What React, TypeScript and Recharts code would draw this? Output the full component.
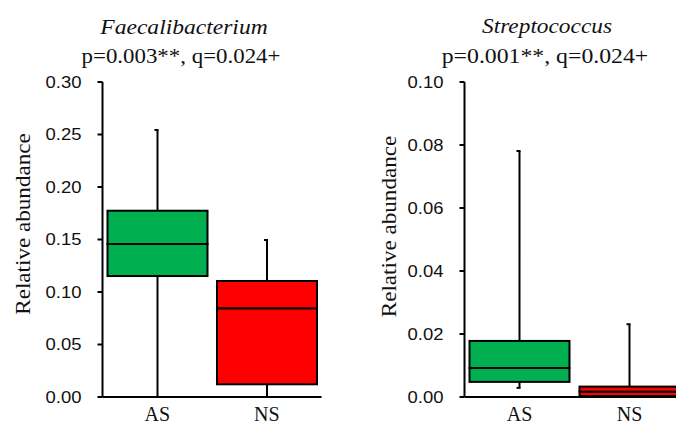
import React from 'react';
import { ComposedChart, Bar, XAxis, YAxis, Label } from 'recharts';

const categories = ['AS', 'NS'];

// Faecalibacterium box statistics (AS, NS)
const faecMin = [0.0, 0.0];
const faecQ1 = [0.1152, 0.0121];
const faecMedian = [0.1457, 0.0845];
const faecQ3 = [0.1774, 0.1105];
const faecMax = [0.2543, 0.1495];

// Streptococcus box statistics (AS, NS)
const strepMin = [0.0029, 0.0];
const strepQ1 = [0.0048, 0.0003];
const strepMedian = [0.0092, 0.0017];
const strepQ3 = [0.0178, 0.0033];
const strepMax = [0.0781, 0.0231];

const faecTicks = [0, 0.05, 0.1, 0.15, 0.2, 0.25, 0.3];
const strepTicks = [0, 0.02, 0.04, 0.06, 0.08, 0.1];

const boxColors = ['#00B050', '#FF0000'];

const buildRows = (
  mins: number[],
  q1s: number[],
  meds: number[],
  q3s: number[],
  maxs: number[]
) =>
  categories.map((name, i) => ({
    name,
    base: mins[i],
    lowWhisker: q1s[i] - mins[i],
    lowBox: meds[i] - q1s[i],
    highBox: q3s[i] - meds[i],
    highWhisker: maxs[i] - q3s[i],
  }));

const faecRows = buildRows(faecMin, faecQ1, faecMedian, faecQ3, faecMax);
const strepRows = buildRows(strepMin, strepQ1, strepMedian, strepQ3, strepMax);

const serif = 'Liberation Serif';
const sans = 'Liberation Sans';

const makeWhisker = (cap: 'top' | 'bottom') => (props: any) => {
  const { x, y, width, height } = props;
  const cx = x + width / 2;
  const capY = cap === 'top' ? y : y + height;
  return (
    <g>
      <line x1={cx} x2={cx} y1={y} y2={y + height} stroke="#000" strokeWidth={2} />
      <line x1={cx - 3} x2={cx + 1} y1={capY} y2={capY} stroke="#000" strokeWidth={2} />
    </g>
  );
};

const BoxShape = (props: any) => {
  const { x, y, width, height, index } = props;
  return (
    <rect
      x={x}
      y={y}
      width={width}
      height={height}
      fill={boxColors[index]}
      stroke="#000"
      strokeWidth={2}
    />
  );
};

const YTick = (props: any) => {
  const { x, y, payload } = props;
  return (
    <text
      transform={`translate(${x},${y}) scale(1.12,1)`}
      dy="0.36em"
      textAnchor="end"
      fontFamily={sans}
      fontSize={16.5}
      fill="#111"
    >
      {Number(payload.value).toFixed(2)}
    </text>
  );
};

const XTick = (props: any) => {
  const { x, y, payload } = props;
  return (
    <text
      x={x}
      y={y + 24}
      textAnchor="middle"
      fontFamily={serif}
      fontSize={20}
      fill="#111"
    >
      {payload.value}
    </text>
  );
};

const whiskerLow = makeWhisker('bottom');
const whiskerHigh = makeWhisker('top');

function BoxPanel({
  rows,
  domain,
  ticks,
  chartWidth,
  plotLeft,
  plotWidth,
  labelX,
  labelY,
}: {
  rows: any[];
  domain: [number, number];
  ticks: number[];
  chartWidth: number;
  plotLeft: number;
  plotWidth: number;
  labelX: number;
  labelY: number;
}) {
  const yAxisWidth = 60;
  return (
    <ComposedChart
      width={chartWidth}
      height={427}
      data={rows}
      margin={{
        top: 82,
        right: chartWidth - plotLeft - plotWidth,
        bottom: 0,
        left: plotLeft - yAxisWidth,
      }}
      barSize={100}
    >
      <XAxis
        dataKey="name"
        height={30}
        tickSize={0}
        tickMargin={0}
        tickLine={false}
        interval={0}
        axisLine={{ stroke: '#000', strokeWidth: 2 }}
        tick={<XTick />}
      />
      <YAxis
        type="number"
        width={yAxisWidth}
        domain={domain}
        ticks={ticks}
        allowDataOverflow
        tickSize={5}
        tickMargin={16}
        tickLine={{ stroke: '#000', strokeWidth: 2 }}
        axisLine={{ stroke: '#000', strokeWidth: 2 }}
        tick={<YTick />}
      >
        <Label
          content={() => (
            <text
              transform={`translate(${labelX},${labelY}) rotate(-90) scale(1.1,1)`}
              textAnchor="middle"
              fontFamily={serif}
              fontSize={21}
              fill="#111"
            >
              Relative abundance
            </text>
          )}
        />
      </YAxis>
      <Bar dataKey="base" stackId="box" fill="none" isAnimationActive={false} />
      <Bar dataKey="lowWhisker" stackId="box" shape={whiskerLow} isAnimationActive={false} />
      <Bar dataKey="lowBox" stackId="box" shape={BoxShape} isAnimationActive={false} />
      <Bar dataKey="highBox" stackId="box" shape={BoxShape} isAnimationActive={false} />
      <Bar dataKey="highWhisker" stackId="box" shape={whiskerHigh} isAnimationActive={false} />
    </ComposedChart>
  );
}

const Title = ({ cx, top, sx, italic, children }: any) => (
  <div
    style={{
      position: 'absolute',
      left: cx - 150,
      top,
      width: 300,
      textAlign: 'center',
      fontFamily: "'Liberation Serif', 'Times New Roman', serif",
      fontStyle: italic ? 'italic' : 'normal',
      fontSize: 22,
      lineHeight: '22px',
      color: '#111',
      transform: `scaleX(${sx})`,
      whiteSpace: 'nowrap',
    }}
  >
    {children}
  </div>
);

export default function App() {
  return (
    <div
      style={{
        position: 'absolute',
        left: 0,
        top: 0,
        width: 676,
        height: 427,
        overflow: 'hidden',
        background: '#fff',
      }}
    >
      <div style={{ position: 'absolute', left: 0, top: 0 }}>
        <BoxPanel
          rows={faecRows}
          domain={[0, 0.3]}
          ticks={faecTicks}
          chartWidth={340}
          plotLeft={102.5}
          plotWidth={219}
          labelX={30}
          labelY={224}
        />
      </div>
      <div style={{ position: 'absolute', left: 340, top: 0 }}>
        <BoxPanel
          rows={strepRows}
          domain={[0, 0.1]}
          ticks={strepTicks}
          chartWidth={360}
          plotLeft={124.5}
          plotWidth={220}
          labelX={56}
          labelY={226.5}
        />
      </div>
      <Title cx={184} top={16} sx={1.07} italic>Faecalibacterium</Title>
      <Title cx={180.5} top={45} sx={1.04}>p=0.003**, q=0.024+</Title>
      <Title cx={547} top={15} sx={1.06} italic>Streptococcus</Title>
      <Title cx={545} top={45} sx={1.08}>p=0.001**, q=0.024+</Title>
    </div>
  );
}
